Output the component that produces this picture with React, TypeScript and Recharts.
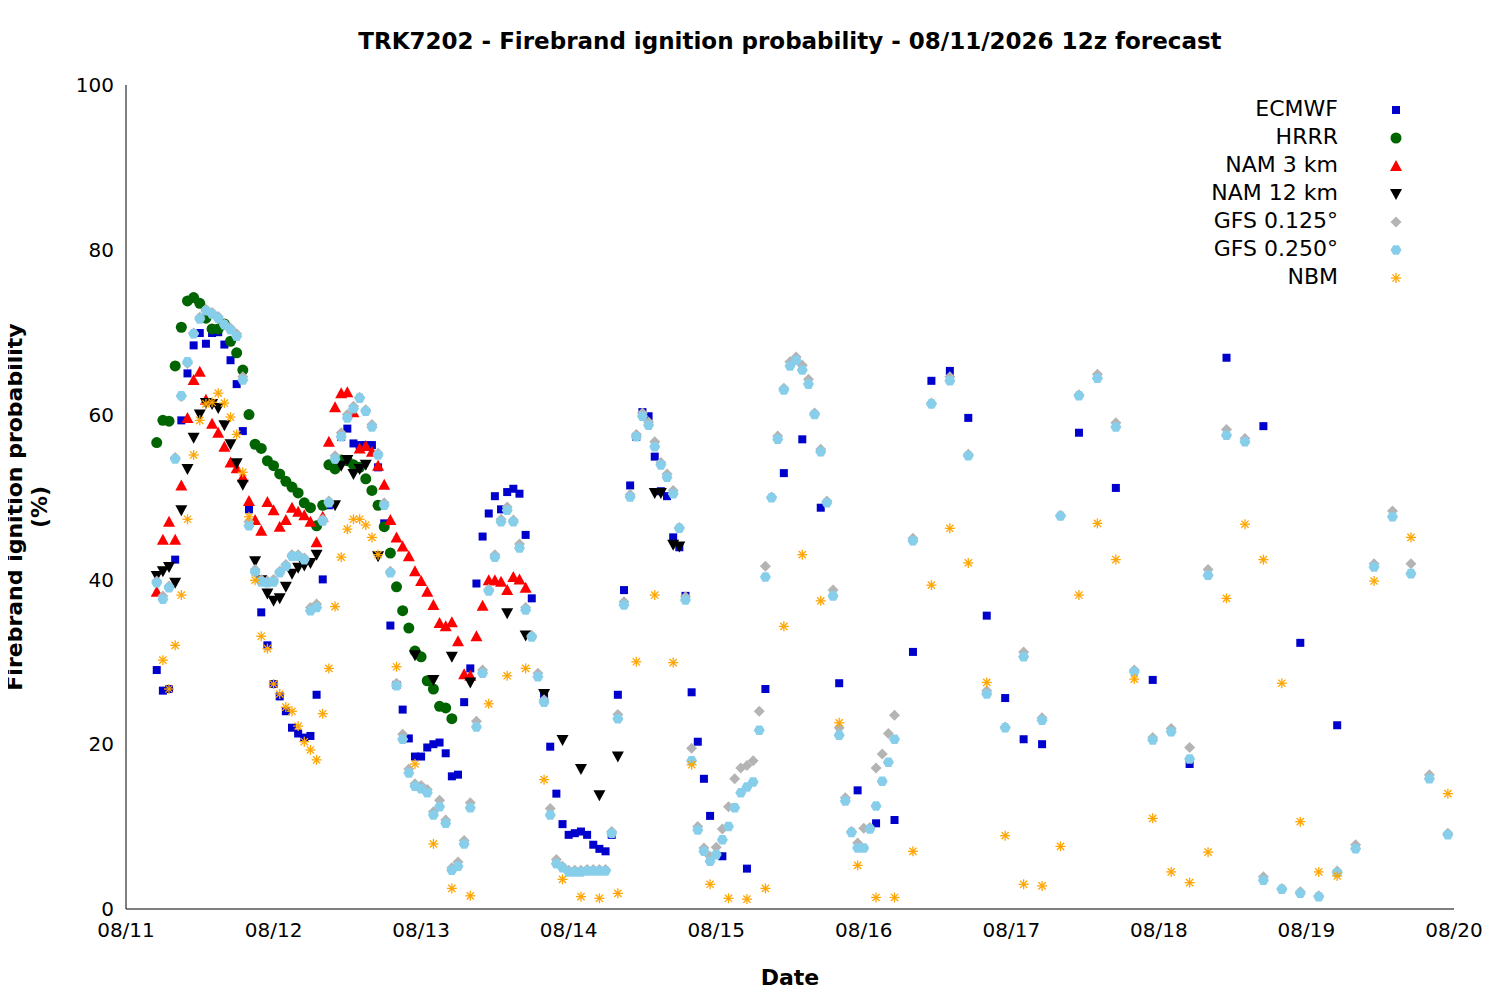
import React from "react";
import { ScatterChart, Scatter, XAxis, YAxis } from "recharts";

const dayLabels = ["08/11","08/12","08/13","08/14","08/15","08/16","08/17","08/18","08/19","08/20"];
const yTicks = [0,20,40,60,80,100];

const ecmwf: [number, number][] = [[5,29],[6,26.5],[7,26.7],[8,42.4],[9,59.3],[10,65],[11,68.4],[12,69.9],[13,68.6],[14,69.9],[15,70],[16,68.5],[17,66.6],[18,63.7],[19,58],[20,48.5],[22,36],[23,32],[24,27.3],[25,25.8],[26,24],[27,22],[28,21.3],[29,20.8],[30,21],[31,26],[32,40],[33,49],[35,57.3],[36,58.3],[37,56.5],[38,56.3],[39,56.3],[40,56.3],[41,53.6],[42,46.8],[43,34.4],[44,27.2],[45,24.2],[46,20.7],[47,18.5],[48,18.5],[49,19.6],[50,20],[51,20.2],[52,18.9],[53,16.1],[54,16.3],[55,25.1],[56,29.2],[57,39.5],[58,45.2],[59,48],[60,50.1],[61,48.5],[62,50.6],[63,51],[64,50.4],[65,45.4],[66,37.7],[68,26],[69,19.7],[70,14],[71,10.3],[72,9],[73,9.2],[74,9.4],[75,9],[76,7.8],[77,7.3],[78,7],[79,9],[80,26],[81,38.7],[82,51.4],[83,57.3],[84,60.3],[85,59.8],[86,54.9],[87,50.7],[88,50.1],[89,45.1],[90,43.9],[91,38],[92,26.3],[93,20.3],[94,15.8],[95,11.3],[97,6.4],[101,4.9],[104,26.7],[107,52.9],[110,57],[113,48.7],[116,27.4],[119,14.4],[122,10.4],[125,10.8],[128,31.2],[131,64.1],[134,65.3],[137,59.6],[140,35.6],[143,25.6],[146,20.6],[149,20],[155,57.8],[161,51.1],[167,27.8],[173,17.6],[179,66.9],[185,58.6],[191,32.3],[197,22.3]];

const hrrrStart = 5;
const hrrr = [56.6,59.3,59.2,65.9,70.6,73.8,74.2,73.5,71.7,70.4,70.4,71,68.9,67.5,65.4,60,56.4,55.9,54.4,53.8,52.8,51.9,51.2,50.5,49.3,48.7,46.5,49,53.9,53.4,54.5,54.4,53.9,53.6,52.2,50.8,49,46.4,43.2,39.1,36.2,34.1,31.3,30.6,27.7,26.7,24.6,24.4,23.1];

const nam3Start = 5;
const nam3 = [38.5,44.8,47,44.8,51.4,59.6,64.2,65.2,61.8,58.9,57.8,56.1,54.2,53.5,52.4,49.5,47.2,45.9,49.4,48.4,46.4,47.2,48.7,48.2,47.8,47,44.5,47.6,56.7,60.9,62.6,62.7,60.3,55.9,56.2,55.5,53.8,51.5,47.2,45.1,44,42.8,41,39.8,38.5,36.9,34.7,34.3,34.8,32.5,28.5,28.3,33.1,36.8,39.9,39.9,39.7,38.7,40.3,40,39];

const nam12: [number, number][] = [[5,40.4],[6,41],[7,41.5],[8,39.6],[9,48.4],[10,53.4],[11,57.2],[12,60],[13,61.4],[14,61.3],[15,60.8],[16,58.7],[17,56.4],[18,54.1],[19,51.5],[21,42.2],[22,39.9],[23,38.3],[24,37.4],[25,37.7],[26,39.1],[27,40.7],[28,41.4],[29,41.7],[30,42],[31,43],[34,49],[35,53.8],[36,54.5],[37,52.8],[38,53.4],[39,53.9],[41,42.8],[47,30.8],[50,27.8],[53,30.6],[56,27.5],[62,35.9],[65,33.2],[68,26.1],[71,20.5],[74,17],[77,13.8],[80,18.5],[86,50.5],[87,50.5],[89,44.2],[90,44]];

const gfsStart = 5;
const gfs025Hourly = [39.6,37.6,39,54.6,62.3,66.4,69.8,71.6,72.6,72.2,71.7,70.9,70.3,69.5,64.2,46.5,40.9,39.7,39.6,39.7,40.8,41.6,42.8,42.8,42.4,36.2,36.6,47.1,49.3,54.6,57.3,59.6,60.7,62,60.4,58.5,55.1,49,40.8,27.1,20.6,16.5,14.9,14.6,14.1,11.4,12.4,10.4,4.7,5.2,7.9,12.3,22.1,28.6,38.6,42.7,47,48.4,47,43.8,36.3,33,28.2,25.1,11.4,5.5,5,4.5,4.5,4.5,4.6,4.6,4.6,4.6,9.2,23.1,36.9,50,57.3,59.8,58.7,56.1,53.9,52.4,50.4,46.2,37.5,18,9.6,7,5.8,6.6,8.4,10,12.3,14.1,14.8,15.4,21.7,40.3,49.9,57,63,65.9,66.6,65.4,63.7,60,55.5,49.3,38,21.1,13.1,9.3,7.4,7.4,9.7,12.5,15.5,17.8,20.6];
const gfs0125Hourly = [39.8,38,39.2,54.8,62.2,66.2,69.9,71.8,72.8,72.4,71.9,71,70.5,69.8,64.6,47,41.2,40,39.8,40,41,41.8,43,43,42.6,36.6,37,47.3,49.5,55,57.8,60,61,62.1,60.6,58.8,55.3,49.3,41,27.4,21.2,17,15.2,15,14.5,11.8,13.2,10.8,5,5.7,8.3,12.9,22.8,29,38.8,43,47.3,48.8,47.2,44.3,36.6,33.2,28.6,25.4,12.2,6,5.2,4.7,4.7,4.7,4.8,4.8,4.8,4.8,9.4,23.6,37.3,50.3,57.6,60.2,59.1,56.7,54.2,52.8,50.8,46.3,37.9,19.5,10,7.4,6.4,7.5,9.7,12.4,15.8,17.1,17.4,18,24,41.6,50,57.4,63.2,66.4,67,66,64.3,60.2,55.8,49.5,38.7,22,13.5,9.4,8,9.8,9.9,17.1,18.8,21.3,23.5];

const gfs025Tri: [number, number][] = [[128,44.7],[131,61.3],[134,64.1],[137,55],[140,26.1],[143,22],[146,30.6],[149,22.9],[152,47.7],[155,62.3],[158,64.4],[161,58.5],[164,28.8],[167,20.5],[170,21.5],[173,18.2],[176,40.5],[179,57.5],[182,56.7],[185,3.5],[188,2.4],[191,1.9],[194,1.5],[197,4.4],[200,7.3],[203,41.5],[206,47.6],[209,40.7],[212,15.8],[215,9]];
const gfs0125Tri: [number, number][] = [[128,45],[131,61.4],[134,64.6],[137,55.2],[140,26.5],[143,22.1],[146,31.2],[149,23.2],[152,47.8],[155,62.4],[158,64.9],[161,59],[164,29],[167,20.8],[170,21.9],[173,19.6],[176,41.2],[179,58.2],[182,57.1],[185,3.9],[188,2.5],[191,2.1],[194,1.6],[197,4.6],[200,7.8],[203,41.9],[206,48.3],[209,41.9],[212,16.3],[215,9.2]];

const nbmStart = 6;
const nbmHourly = [30.2,26.7,32,38.1,47.3,55.1,59.3,61.3,61.5,62.6,61.4,59.7,57.6,53,47.6,39.9,33.1,31.6,27.3,26.1,24.5,24,22.2,20.3,19.3,18.1,23.7,29.2,36.7,42.7,46.1,47.3,47.3,46.6,45.1,43];
const nbmTri: [number, number][] = [[44,29.4],[47,17.6],[50,7.9],[53,2.5],[56,1.6],[59,24.9],[62,28.3],[65,29.2],[68,15.7],[71,3.6],[74,1.5],[77,1.3],[80,1.9],[83,30],[86,38.1],[89,29.9],[92,17.5],[95,3],[98,1.3],[101,1.2],[104,2.5],[107,34.3],[110,43],[113,37.4],[116,22.6],[119,5.3],[122,1.4],[125,1.4],[128,7],[131,39.3],[134,46.2],[137,42],[140,27.5],[143,8.9],[146,3],[149,2.8],[152,7.6],[155,38.1],[158,46.8],[161,42.4],[164,27.9],[167,11],[170,4.5],[173,3.2],[176,6.9],[179,37.7],[182,46.7],[185,42.4],[188,27.4],[191,10.6],[194,4.5],[197,4],[203,39.8],[209,45.1],[215,14]];

const fromPairs = (p: [number, number][]) => p.map(([x, y]) => ({ x, y }));
const fromHourly = (start: number, v: number[]) => v.map((y, i) => ({ x: start + i, y }));

const FONT = "DejaVu Sans, sans-serif";

const Square = ({ cx, cy }: any) => <rect x={cx - 4} y={cy - 4} width={8} height={8} fill="#0000cc" />;
const Circle = ({ cx, cy }: any) => <circle cx={cx} cy={cy} r={5.5} fill="#006400" />;
const TriUp = ({ cx, cy }: any) => <polygon points={`${cx},${cy - 6} ${cx - 6},${cy + 5} ${cx + 6},${cy + 5}`} fill="#ff0000" />;
const TriDown = ({ cx, cy }: any) => <polygon points={`${cx},${cy + 6} ${cx - 6},${cy - 5} ${cx + 6},${cy - 5}`} fill="#000000" />;
const Diamond = ({ cx, cy }: any) => <polygon points={`${cx},${cy - 5.5} ${cx + 5.5},${cy} ${cx},${cy + 5.5} ${cx - 5.5},${cy}`} fill="#b4b4b4" />;
const Hex = ({ cx, cy }: any) => {
  const r = 5.5;
  const pts = [0, 1, 2, 3, 4, 5].map(i => `${cx + r * Math.cos(Math.PI / 3 * i)},${cy + r * Math.sin(Math.PI / 3 * i)}`).join(" ");
  return <polygon points={pts} fill="#87ceeb" />;
};
const Star = ({ cx, cy }: any) => (
  <g stroke="#ffa500" strokeWidth={1.3}>
    <line x1={cx - 5} y1={cy} x2={cx + 5} y2={cy} />
    <line x1={cx} y1={cy - 5} x2={cx} y2={cy + 5} />
    <line x1={cx - 3.6} y1={cy - 3.6} x2={cx + 3.6} y2={cy + 3.6} />
    <line x1={cx - 3.6} y1={cy + 3.6} x2={cx + 3.6} y2={cy - 3.6} />
  </g>
);

const legend = [
  { name: "ECMWF", S: Square },
  { name: "HRRR", S: Circle },
  { name: "NAM 3 km", S: TriUp },
  { name: "NAM 12 km", S: TriDown },
  { name: "GFS 0.125°", S: Diamond },
  { name: "GFS 0.250°", S: Hex },
  { name: "NBM", S: Star },
];

const abs = (x: number, y: number, extra: any = {}) => ({ position: "absolute" as const, left: x - 8, top: y - 8, fontFamily: FONT, ...extra });

export default function App() {
  return (
    <div style={{ position: "relative", width: 1500, height: 1000, background: "#fff" }}>
      <ScatterChart width={1500} height={1000} margin={{ top: 77, right: 54, left: 58, bottom: 69 }}>
        <XAxis type="number" dataKey="x" domain={[0, 216]} ticks={[0, 24, 48, 72, 96, 120, 144, 168, 192, 216]}
          tickFormatter={(v: number) => dayLabels[v / 24]} allowDataOverflow height={30}
          stroke="#000" tickLine={false} tick={{ fill: "#000", fontSize: 20, fontFamily: FONT, dy: 6 }} />
        <XAxis xAxisId="top" orientation="top" type="number" domain={[0, 216]} tick={false} tickLine={false} stroke="#000" height={0} />
        <YAxis type="number" dataKey="y" domain={[0, 100]} ticks={yTicks} width={60} stroke="#000" tickLine={false}
          tick={{ fill: "#000", fontSize: 20, fontFamily: FONT, dx: -4 }} />
        <YAxis yAxisId="right" orientation="right" domain={[0, 100]} tick={false} tickLine={false} stroke="#000" width={0} />
        <Scatter data={fromPairs(ecmwf)} shape={Square} isAnimationActive={false} />
        <Scatter data={fromHourly(hrrrStart, hrrr)} shape={Circle} isAnimationActive={false} />
        <Scatter data={fromHourly(nam3Start, nam3)} shape={TriUp} isAnimationActive={false} />
        <Scatter data={fromPairs(nam12)} shape={TriDown} isAnimationActive={false} />
        <Scatter data={[...fromHourly(gfsStart, gfs0125Hourly), ...fromPairs(gfs0125Tri)]} shape={Diamond} isAnimationActive={false} />
        <Scatter data={[...fromHourly(gfsStart, gfs025Hourly), ...fromPairs(gfs025Tri)]} shape={Hex} isAnimationActive={false} />
        <Scatter data={[...fromHourly(nbmStart, nbmHourly), ...fromPairs(nbmTri)]} shape={Star} isAnimationActive={false} />
      </ScatterChart>
      <div style={abs(290, 28, { width: 1000, textAlign: "center", fontSize: 23, fontWeight: "bold" })}>
        TRK7202 - Firebrand ignition probability - 08/11/2026 12z forecast
      </div>
      <div style={abs(690, 965, { width: 200, textAlign: "center", fontSize: 22, fontWeight: "bold" })}>Date</div>
      <div style={abs(-173, 482, { width: 400, textAlign: "center", fontSize: 22, fontWeight: "bold", transform: "rotate(-90deg)" })}>
        Firebrand ignition probability (%)
      </div>
      {legend.map((l, i) => (
        <div key={l.name} style={abs(1100, 96 + i * 28, { width: 238, textAlign: "right", fontSize: 22 })}>{l.name}</div>
      ))}
      <svg style={{ position: "absolute", left: 1370, top: 90 }} width={40} height={200}>
        {legend.map((l, i) => <l.S key={l.name} cx={18} cy={12 + i * 28} />)}
      </svg>
    </div>
  );
}
